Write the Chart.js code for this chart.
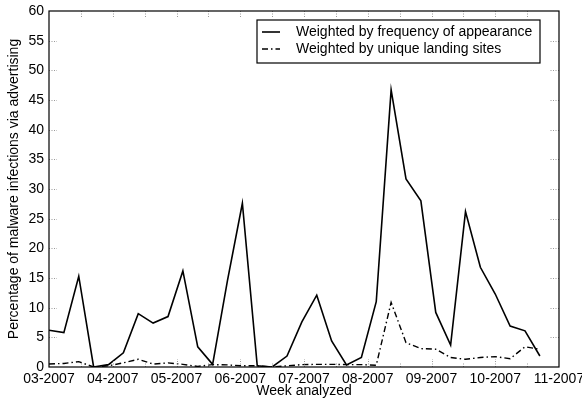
<!DOCTYPE html>
<html>
<head>
<meta charset="utf-8">
<script src="https://cdn.jsdelivr.net/npm/chart.js@4.4.0/dist/chart.umd.min.js"></script>
<style>
  html, body { margin: 0; padding: 0; background: #fff; }
  #wrap { width: 582px; height: 400px; }
</style>
</head>
<body>
<div id="wrap"><canvas id="adChart" width="582" height="400"></canvas></div>
<script>
// day offset of each weekly sample (from start of 03-2007)
var weekDays = [0, 7, 14, 21, 28, 35, 42, 49, 56, 63, 70, 77, 84, 91, 98, 105, 112,
  119, 126, 133, 140, 147, 154, 161, 168, 175, 182, 189, 196, 203, 210, 217, 224, 231];

var byFrequency = [6.2, 5.8, 15.3, 0, 0.4, 2.4, 9.0, 7.4, 8.5, 16.2, 3.4, 0.45, 14.6, 27.6,
  0.2, 0, 1.85, 7.6, 12.1, 4.4, 0.35, 1.6, 11.0, 46.7, 31.7, 28.0, 9.2, 3.7, 26.2, 16.8,
  12.3, 6.9, 6.1, 1.85];

var byLandingSites = [0.5, 0.6, 0.9, 0, 0.2, 0.7, 1.3, 0.5, 0.7, 0.45, 0.1, 0.4, 0.35, 0.2,
  0.2, 0, 0.2, 0.4, 0.45, 0.45, 0.4, 0.4, 0.3, 10.9, 4.1, 3.1, 3.0, 1.6, 1.3, 1.6,
  1.75, 1.4, 3.4, 3.0];

var monthLabels = ["03-2007", "04-2007", "05-2007", "06-2007", "07-2007", "08-2007",
  "09-2007", "10-2007", "11-2007"];
var monthTicks = [0, 30, 60, 90, 120, 150, 180, 210, 240];
var yTicks = [0, 5, 10, 15, 20, 25, 30, 35, 40, 45, 50, 55, 60];

var FONT = "Liberation Sans, Arial, Helvetica, sans-serif";

function toPoints(vals) {
  return vals.map(function (v, i) { return { x: weekDays[i], y: v }; });
}

// gnuplot-like frame, dotted inner ticks and boxed key
var framePlugin = {
  id: "frame",
  afterDatasetsDraw: function (chart) {
    var c = chart.ctx, a = chart.chartArea;
    var xs = chart.scales.x, ys = chart.scales.y;
    c.save();
    c.strokeStyle = "#999";
    c.lineWidth = 1;
    c.setLineDash([1, 1.5]);
    yTicks.forEach(function (v) {
      if (v === 0 || v === 60) return;
      var y = Math.round(ys.getPixelForValue(v)) + 0.5;
      c.beginPath();
      c.moveTo(a.left, y); c.lineTo(a.left + 8, y);
      c.moveTo(a.right, y); c.lineTo(a.right - 9, y);
      c.stroke();
    });
    for (var d = 15; d < 240; d += 15) {
      var x = Math.round(xs.getPixelForValue(d)) + 0.5;
      var len = (d % 30 === 0) ? 8 : 4;
      c.beginPath();
      c.moveTo(x, a.top); c.lineTo(x, a.top + 6);
      c.moveTo(x, a.bottom); c.lineTo(x, a.bottom - len);
      c.stroke();
    }
    c.setLineDash([]);
    c.strokeStyle = "#000";
    c.lineWidth = 1.2;
    c.strokeRect(a.left, a.top, a.right - a.left, a.bottom - a.top);

    // key
    var bx = 257, by = 20, bw = 283, bh = 43;
    c.fillStyle = "#fff";
    c.fillRect(bx, by, bw, bh);
    c.strokeRect(bx, by, bw, bh);
    c.font = "14px " + FONT;
    c.textBaseline = "middle";
    c.fillStyle = "#000";
    chart.data.datasets.forEach(function (ds, i) {
      var ly = by + 12 + i * 17;
      c.strokeStyle = ds.borderColor;
      c.lineWidth = ds.borderWidth;
      c.setLineDash(ds.borderDash || []);
      c.beginPath();
      c.moveTo(262, ly); c.lineTo(280, ly);
      c.stroke();
      c.setLineDash([]);
      c.fillText(ds.label, 296, ly);
    });
    c.restore();
  }
};

var ctx = document.getElementById("adChart").getContext("2d");
var adChart = new Chart(ctx, {
  type: "line",
  data: {
    datasets: [
      {
        label: "Weighted by frequency of appearance",
        data: toPoints(byFrequency),
        borderColor: "#000",
        borderWidth: 1.6,
        pointRadius: 0,
        tension: 0,
        fill: false,
      },
      {
        label: "Weighted by unique landing sites",
        data: toPoints(byLandingSites),
        borderColor: "#000",
        borderWidth: 1.4,
        borderDash: [6, 3, 1.5, 3],
        pointRadius: 0,
        tension: 0,
        fill: false,
      },
    ],
  },
  options: {
    responsive: false,
    animation: false,
    layout: { padding: { top: 11, right: 23, left: 0, bottom: 0 } },
    plugins: {
      legend: { display: false },
      tooltip: { enabled: false },
    },
    scales: {
      x: {
        type: "linear",
        min: 0,
        max: 240,
        grid: { display: false, drawTicks: false },
        border: { display: false },
        afterBuildTicks: function (scale) {
          scale.ticks = monthTicks.map(function (v) { return { value: v }; });
        },
        afterFit: function (scale) {
          scale.height = 33;
          scale.paddingLeft = 0;
          scale.paddingRight = 0;
        },
        ticks: {
          autoSkip: false,
          maxRotation: 0,
          padding: 4,
          color: "#000",
          font: { size: 14, family: FONT },
          callback: function (v) { return monthLabels[monthTicks.indexOf(v)]; },
        },
        title: {
          display: true,
          text: "Week analyzed",
          color: "#000",
          font: { size: 14, family: FONT },
          padding: { top: 0, bottom: 0 },
        },
      },
      y: {
        min: 0,
        max: 60,
        grid: { display: false, drawTicks: false },
        border: { display: false },
        afterFit: function (scale) {
          scale.width = 49;
          scale.paddingTop = 0;
          scale.paddingBottom = 0;
        },
        ticks: {
          stepSize: 5,
          padding: 5,
          color: "#000",
          font: { size: 14, family: FONT },
        },
        title: {
          display: true,
          text: "Percentage of malware infections via advertising",
          color: "#000",
          font: { size: 14, family: FONT },
          padding: { top: 6, bottom: 0 },
        },
      },
    },
  },
  plugins: [framePlugin],
});
</script>
</body>
</html>
